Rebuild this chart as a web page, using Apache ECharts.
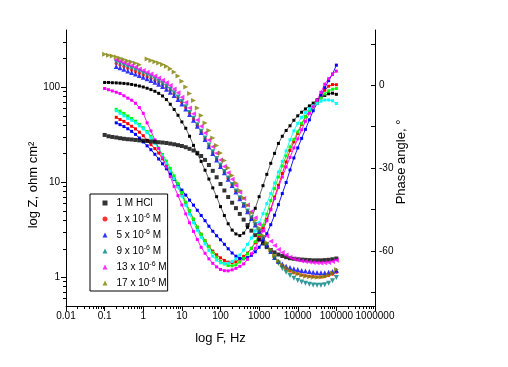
<!DOCTYPE html>
<html><head><meta charset="utf-8">
<script src="https://cdn.jsdelivr.net/npm/echarts@6/dist/echarts.min.js"></script>
<style>html,body{margin:0;padding:0;background:#fff}#c{width:508px;height:367px}</style>
</head><body><div id="c"></div>
<script>
const N = null;
const freq = [0.1,0.126,0.158,0.2,0.251,0.316,0.398,0.501,0.631,0.794,
 1,1.26,1.58,2,2.51,3.16,3.98,5.01,6.31,7.94,
 10,12.6,15.8,20,25.1,31.6,39.8,50.1,63.1,79.4,
 100,126,158,200,251,316,398,501,631,794,
 1000,1260,1580,2000,2510,3160,3980,5010,6310,7940,
 10000,12600,15800,20000,25100,31600,39800,50100,63100,79400,100000];

const names = ['1 M HCl','1 x 10^-6 M','5 x 10^-6 M','9 x 10^-6 M','13 x 10^-6 M','17 x 10^-6 M'];

// |Z| (ohm cm2), markers only
const zBlank = [31.5,30.5,30.0,29.6,29.1,28.7,28.4,28.2,27.9,27.6,27.4,27.2,26.9,26.7,26.4,26.2,25.9,25.5,25.1,24.6,24.1,23.4,22.5,21.6,20.4,18.9,17.2,15.2,13.2,11.3,9.6,8.2,7.0,6.1,5.35,4.65,4.05,3.55,3.1,2.78,2.5,2.27,2.08,1.94,1.83,1.74,1.68,1.63,1.59,1.57,1.55,1.54,1.53,1.52,1.51,1.51,1.51,1.52,1.53,1.55,1.58];
const z1 = [N,N,N,178.1,171.3,164.8,158.1,152.1,146.3,140.4,134.4,129.0,123.5,117.9,112.3,106.2,99.7,92.8,85.4,77.5,69.4,61.3,53.6,46.4,39.8,34.0,28.8,24.3,20.6,17.6,15.0,12.9,11.0,9.41,8.04,6.83,5.81,4.95,4.21,3.59,3.06,2.59,2.20,1.88,1.62,1.44,1.32,1.23,1.17,1.12,1.09,1.06,1.04,1.03,1.02,1.01,1.01,1.02,1.045,1.08,1.13];
const z5 = [N,N,N,165.6,160.3,154.6,148.5,143.2,138.1,133.1,127.6,122.8,117.9,112.9,107.5,101.7,95.5,88.8,81.8,74.2,66.7,59.1,51.7,45.0,38.8,33.4,28.2,23.6,20.1,17.2,14.7,12.6,10.8,9.25,7.91,6.72,5.73,4.89,4.17,3.55,3.03,2.57,2.19,1.87,1.62,1.47,1.38,1.31,1.27,1.23,1.21,1.18,1.165,1.15,1.13,1.126,1.12,1.12,1.13,1.15,1.19];
const z9 = [N,N,N,184.6,177.6,170.8,163.6,157.3,151.4,145.3,139.1,133.5,127.8,122.0,115.9,109.4,102.4,95.0,87.3,79.1,70.7,62.3,54.4,47.1,40.4,34.5,29.3,24.7,20.9,17.8,15.2,13.0,11.1,9.48,8.10,6.88,5.85,4.99,4.24,3.61,3.07,2.60,2.21,1.88,1.60,1.40,1.24,1.13,1.045,0.978,0.930,0.892,0.865,0.846,0.834,0.826,0.826,0.838,0.867,0.919,0.995];
const z13 = [N,N,N,194.8,188.3,182.0,175.9,169.6,162.8,155.8,149.9,143.9,137.7,131.5,125.3,118.5,111.5,104.0,96.0,87.3,78.3,69.2,60.6,52.5,45.3,38.9,33.0,27.9,23.7,20.2,17.2,14.7,12.6,10.8,9.23,7.88,6.74,5.77,4.94,4.23,3.63,3.13,2.72,2.40,2.16,1.97,1.83,1.72,1.63,1.57,1.525,1.49,1.467,1.449,1.435,1.424,1.42,1.424,1.438,1.467,1.514];
const z17 = [222.6,217.3,212.6,207.5,202.0,195.2,189.1,184.6,178.9,172.5,N,197.6,191.0,185.5,180.3,173.8,166.4,156.6,144.9,130.9,115.7,100.7,86.1,72.6,60.6,50.5,42.1,35.1,29.3,24.4,20.3,17.0,14.1,11.8,9.83,8.20,6.83,5.70,4.75,3.96,3.30,2.75,2.31,1.96,1.70,1.50,1.36,1.265,1.19,1.13,1.09,1.055,1.03,1.015,1.005,1.002,1.007,1.02,1.05,1.11,1.21];

// phase angle (degrees), lines with markers
const phBlack = [1.0,1.0,0.9,0.85,0.75,0.65,0.5,0.27,0.0,-0.3,-0.65,-1.1,-1.6,-2.2,-2.95,-3.9,-5.2,-6.9,-8.8,-10.9,-13.3,-15.6,-18.5,-21.8,-24.9,-27.6,-30.8,-34.0,-37.2,-40.4,-44.0,-47.2,-50.2,-52.5,-53.9,-54.5,-53.6,-51.5,-48.3,-44.6,-40.4,-36.4,-32.3,-28.3,-24.7,-21.1,-18.5,-16.4,-14.7,-12.7,-11.1,-9.8,-8.6,-7.5,-6.5,-5.3,-4.4,-3.7,-3.1,-2.9,-3.3];
const phRed = [N,N,N,-11.64,-12.44,-13.09,-13.93,-14.87,-15.82,-17.02,-18.29,-19.93,-21.53,-22.98,-24.58,-26.69,-28.91,-31.45,-33.96,-36.73,-39.82,-42.73,-45.64,-48.58,-51.45,-54.0,-56.36,-58.36,-60.11,-61.45,-62.55,-63.49,-64.11,-64.36,-64.0,-62.98,-62.0,-60.84,-59.09,-57.09,-54.65,-51.82,-48.55,-44.91,-40.55,-36.29,-32.0,-27.82,-23.64,-20.55,-17.45,-14.18,-11.45,-9.45,-7.64,-6.18,-3.82,-1.82,-0.36,0.22,0.18];
const phBlue = [N,N,N,-13.64,-14.29,-14.98,-15.78,-16.73,-17.82,-19.16,-20.55,-21.96,-23.38,-25.02,-26.73,-28.47,-30.29,-32.15,-34.11,-36.07,-38.0,-39.82,-41.64,-43.45,-45.31,-47.2,-49.09,-51.09,-52.91,-54.55,-56.0,-57.64,-59.27,-60.8,-61.96,-62.76,-62.91,-62.47,-61.64,-60.36,-58.73,-56.55,-53.82,-50.55,-47.09,-43.27,-39.27,-35.27,-30.73,-26.36,-22.73,-19.27,-16.0,-12.55,-9.27,-6.55,-3.64,-0.91,1.64,4.0,7.27];
const phGreen = [N,N,N,-8.73,-9.42,-10.22,-11.16,-12.07,-13.05,-14.18,-15.42,-16.8,-18.47,-20.55,-22.76,-25.09,-27.49,-30.11,-32.84,-35.64,-38.91,-42.36,-45.45,-48.55,-51.45,-54.0,-56.36,-58.55,-60.55,-62.29,-63.82,-64.73,-65.31,-65.45,-65.09,-64.07,-62.73,-61.09,-59.09,-56.73,-54.0,-50.73,-46.73,-41.82,-37.45,-33.27,-29.27,-25.64,-22.36,-19.64,-16.91,-13.82,-11.45,-9.45,-7.89,-6.55,-4.73,-3.16,-2.04,-1.45,-1.2];
const phCyan = [N,N,N,-9.24,-10.18,-11.09,-12.0,-12.73,-13.64,-14.73,-15.82,-17.16,-19.05,-21.09,-23.09,-25.64,-28.29,-31.13,-33.89,-36.91,-40.18,-43.45,-46.73,-49.82,-52.58,-55.09,-57.45,-59.85,-61.93,-63.35,-64.36,-64.73,-64.51,-63.85,-62.91,-61.53,-59.75,-57.64,-55.35,-52.73,-49.82,-46.55,-42.91,-39.27,-35.45,-31.45,-27.64,-23.82,-19.82,-16.55,-13.82,-11.64,-9.96,-8.62,-7.49,-6.55,-5.82,-5.38,-5.35,-5.64,-6.65];
const phMagenta = [-1.2,-1.64,-2.07,-2.55,-3.02,-3.82,-4.69,-5.45,-6.55,-8.11,-10.18,-13.64,-16.58,-19.82,-22.91,-26.29,-29.64,-33.09,-36.65,-40.0,-43.38,-46.62,-49.82,-52.98,-55.93,-58.73,-60.91,-62.91,-64.55,-65.82,-66.76,-67.2,-67.27,-66.91,-66.36,-65.64,-64.73,-63.09,-61.09,-59.09,-56.0,-52.73,-49.09,-45.09,-41.09,-37.09,-33.27,-29.64,-26.18,-22.73,-19.45,-16.18,-13.09,-10.18,-7.82,-5.45,-2.55,0.36,2.36,4.0,5.09];

// axis ticks / labels
const xMajor = [0.01,0.1,1,10,100,1000,10000,100000,1000000];
const xMinor = [0.02,0.03,0.04,0.05,0.06,0.07,0.08,0.09,0.2,0.3,0.4,0.5,0.6,0.7,0.8,0.9,2,3,4,5,6,7,8,9,20,30,40,50,60,70,80,90,200,300,400,500,600,700,800,900,2000,3000,4000,5000,6000,7000,8000,9000,20000,30000,40000,50000,60000,70000,80000,90000,200000,300000,400000,500000,600000,700000,800000,900000];
const yMajor = [1,10,100];
const yMinor = [0.6,0.7,0.8,0.9,2,3,4,5,6,7,8,9,20,30,40,50,60,70,80,90,200,300];
const phTicks = [-75,-60,-45,-30,-15,0,15];
const phLabels = [-60,-30,0];

const font = '"Liberation Sans", Arial, sans-serif';
const pairs = ys => freq.map((f,i)=>[f, ys[i]]).filter(p => p[1] !== null);
const fmt = v => String(parseFloat(Number(v).toPrecision(6)));

const zSeries = [
  {d: zBlank, sym:'rect', size:4, rot:0, color:'#000000'},
  {d: z1, sym:'circle', size:3.5, rot:0, color:'#ff0000'},
  {d: z5, sym:'triangle', size:5, rot:0, color:'#0000ff'},
  {d: z9, sym:'triangle', size:5, rot:180, color:'#008080'},
  {d: z13, sym:'triangle', size:5, rot:90, color:'#ff00ff'},
  {d: z17, sym:'triangle', size:5, rot:-90, color:'#808000'}
];
const phSeries = [
  {d: phBlack, color:'#000000', line:'#555555'},
  {d: phRed, color:'#ff0000', line:'#ff0000'},
  {d: phBlue, color:'#0000ff', line:'#0000ff'},
  {d: phGreen, color:'#00ff00', line:'#00ff00'},
  {d: phCyan, color:'#00ffff', line:'#00ffff'},
  {d: phMagenta, color:'#ff00ff', line:'#ff00ff'}
];

const series = [];
phSeries.forEach((s,i) => series.push({
  name: 'phase ' + i, type:'line', xAxisIndex:0, yAxisIndex:1, data: pairs(s.d),
  symbol:'rect', symbolSize:3, showSymbol:true, showAllSymbol:true,
  lineStyle:{width:0.9, color:s.line}, itemStyle:{color:s.color}, z:2, silent:true
}));
zSeries.forEach((s,i) => series.push({
  name: names[i], type:'scatter', xAxisIndex:0, yAxisIndex:0, data: pairs(s.d),
  symbol:s.sym, symbolSize:s.size, symbolRotate:s.rot, itemStyle:{color:s.color}, z:3, silent:true
}));

const black = {color:'#000', width:1};
const option = {
  animation:false,
  backgroundColor:'#ffffff',
  textStyle:{fontFamily:font},
  grid:{left:66, top:30, width:309, height:276, containLabel:false},
  xAxis:[
    {type:'log', logBase:10, min:0.01, max:1000000, position:'bottom',
     name:'log F, Hz', nameLocation:'middle', nameGap:26, nameMoveOverlap:false,
     nameTextStyle:{fontFamily:font, fontSize:13, color:'#000'},
     axisLine:{show:true, onZero:false, lineStyle:black},
     axisTick:{show:true, length:5, inside:false, lineStyle:black, customValues:xMajor},
     axisLabel:{customValues:xMajor, formatter:fmt, fontFamily:font, fontSize:10, color:'#000', margin:5},
     splitLine:{show:false}, minorTick:{show:false}},
    {type:'log', logBase:10, min:0.01, max:1000000, position:'bottom',
     axisLine:{show:false, onZero:false}, axisTick:{show:true, length:3, inside:false, lineStyle:black, customValues:xMinor},
     axisLabel:{show:false}, splitLine:{show:false}}
  ],
  yAxis:[
    {type:'log', logBase:10, min:0.5, max:400, position:'left',
     name:'log Z, ohm cm²', nameLocation:'middle', nameGap:26, nameRotate:90, nameMoveOverlap:false,
     nameTextStyle:{fontFamily:font, fontSize:13, color:'#000', padding:[0,34,0,0]},
     axisLine:{show:true, onZero:false, lineStyle:black},
     axisTick:{show:true, length:5, inside:false, lineStyle:black, customValues:yMajor},
     axisLabel:{customValues:yMajor, formatter:fmt, fontFamily:font, fontSize:10, color:'#000', margin:6},
     splitLine:{show:false}},
    {type:'value', min:-80, max:20, position:'right',
     name:'Phase angle, °', nameLocation:'middle', nameGap:20, nameRotate:90, nameMoveOverlap:false,
     nameTextStyle:{fontFamily:font, fontSize:13, color:'#000', padding:[0,0,0,12]},
     axisLine:{show:true, onZero:false, lineStyle:black},
     axisTick:{show:true, length:4, inside:true, lineStyle:black, customValues:phTicks},
     axisLabel:{customValues:phLabels, fontFamily:font, fontSize:10, color:'#000', margin:4},
     splitLine:{show:false}},
    {type:'log', logBase:10, min:0.5, max:400, position:'left',
     axisLine:{show:false, onZero:false}, axisTick:{show:true, length:3, inside:false, lineStyle:black, customValues:yMinor},
     axisLabel:{show:false}, splitLine:{show:false}}
  ],
  legend:{
    data: names, orient:'vertical', left:90, top:194,
    itemWidth:5, itemHeight:5, itemGap:4,
    padding:[3,1,2,12.5], borderColor:'#000', borderWidth:1,
    selectedMode:false,
    textStyle:{fontFamily:font, fontSize:10, color:'#000', lineHeight:12, padding:[0,0,0,4],
      rich:{sup:{fontFamily:font, fontSize:7, color:'#000', verticalAlign:'top', lineHeight:8}}},
    formatter: n => n.replace(/\^(-?\d+)/, '{sup|$1}')
  },
  series: series
};
const chart = echarts.init(document.getElementById('c'), null, {renderer:'canvas'});
chart.setOption(option);
</script></body></html>
